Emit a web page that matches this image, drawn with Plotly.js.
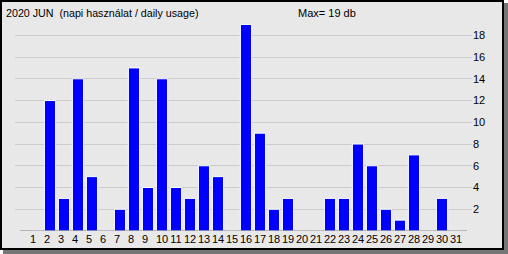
<!DOCTYPE html>
<html>
<head>
<meta charset="utf-8">
<script src="https://cdn.plot.ly/plotly-3.0.1.min.js"></script>
<style>
html,body{margin:0;padding:0;background:#fff;}
#shadow{position:absolute;left:3px;top:3px;width:505px;height:251px;background:#767676;}
#frame{position:absolute;left:0;top:0;width:504px;height:250px;box-sizing:border-box;border:2px solid #000;background:#e8e8e8;}
#chart{position:absolute;left:0;top:0;width:508px;height:254px;}
</style>
</head>
<body>
<div id="shadow"></div>
<div id="frame"></div>
<div id="chart"></div>
<script>
const days = [1,2,3,4,5,6,7,8,9,10,11,12,13,14,15,16,17,18,19,20,21,22,23,24,25,26,27,28,29,30,31];
const usage = [0,12,3,14,5,0,2,15,4,14,4,3,6,5,0,19,9,2,3,0,0,3,3,8,6,2,1,7,0,3,0];
const dayLabels = days.map(d => d < 10 ? d + "\u2007" : String(d));
const yTicks = [2,4,6,8,10,12,14,16,18];
const titleText = "2020 JUN  (napi használat / daily usage)";
const maxText = "Max= " + Math.max(...usage) + " db";

const font = {family: "Liberation Sans, Arial, sans-serif", size: 11, color: "#000"};
const titleFont = {family: "Liberation Sans, Arial, sans-serif", size: 10.7, color: "#000"};

Plotly.newPlot("chart", [{
  type: "bar",
  x: days,
  y: usage,
  width: 0.8,
  marker: {color: "#0000ff", line: {color: "#ffffff", width: 1}},
  hoverinfo: "none"
}], {
  width: 508, height: 254,
  margin: {l: 15, r: 36, t: 19, b: 23, pad: 0},
  paper_bgcolor: "rgba(0,0,0,0)",
  plot_bgcolor: "rgba(0,0,0,0)",
  showlegend: false,
  font: font,
  bargap: 0,
  xaxis: {
    range: [-0.5, 32.143],
    tickmode: "array", tickvals: days, ticktext: dayLabels,
    tickangle: 0,
    showgrid: false, zeroline: false, showline: false, ticks: "",
    tickfont: font, ticklabelstandoff: 0, fixedrange: true
  },
  yaxis: {
    range: [0, 19.5], side: "right",
    tickmode: "array", tickvals: yTicks, ticktext: yTicks.map(String),
    showgrid: true, gridcolor: "#cccccc", gridwidth: 1,
    zeroline: false, showline: false, ticks: "",
    tickfont: font, ticklabelstandoff: 0, fixedrange: true
  },
  shapes: [{
    type: "line", xref: "x", yref: "y",
    x0: -0.143, x1: 31.786, y0: 0, y1: 0,
    line: {color: "#808080", width: 1}
  }],
  annotations: [{
    text: titleText, xref: "paper", yref: "paper",
    x: -0.024, y: 1.026, xanchor: "left", yanchor: "middle",
    showarrow: false, font: titleFont
  }, {
    text: maxText, xref: "paper", yref: "paper",
    x: 0.683, y: 1.026, xanchor: "center", yanchor: "middle",
    showarrow: false, font: font
  }]
}, {staticPlot: true, displayModeBar: false});
</script>
</body>
</html>
